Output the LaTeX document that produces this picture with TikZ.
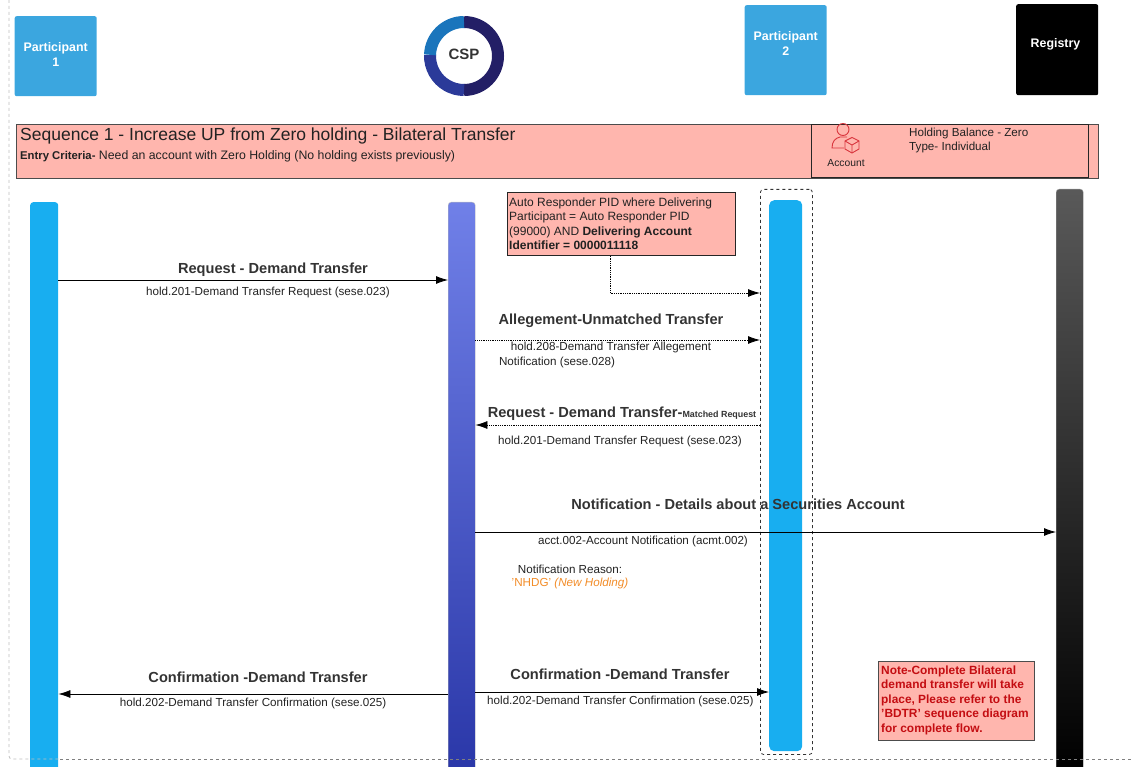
\documentclass[tikz,border=0pt]{standalone}
\usepackage{fontspec}
\setmainfont{Liberation Sans}
\usetikzlibrary{arrows.meta}
\definecolor{partblue}{HTML}{3BA6DF}
\definecolor{lineblue}{HTML}{18AEF0}
\definecolor{bannerpink}{HTML}{FFB6AE}
\definecolor{titlegrey}{HTML}{333333}
\definecolor{textgrey}{HTML}{222222}
\definecolor{noteorange}{HTML}{F28C28}
\definecolor{notered}{HTML}{C40D12}
\definecolor{iconred}{HTML}{D9363E}
\definecolor{ringnavy}{HTML}{231F66}
\definecolor{ringblue}{HTML}{2B3A99}
\definecolor{ringsky}{HTML}{1A75BC}
\tikzset{
    headbox/.style={anchor=north west, draw=none, rounded corners=2pt, inner sep=0pt},
    headtext/.style={text=white, align=center, inner sep=0pt, font=\bfseries\fontsize{12.4}{15}\selectfont},
    lifeline/.style={anchor=north west, rounded corners=3pt, inner sep=0pt},
    pinkbox/.style={anchor=north west, fill=bannerpink, draw=black!70, line width=.8pt, inner sep=0pt},
    msgtitle/.style={text=titlegrey, inner sep=0pt, font=\bfseries\fontsize{14.6}{17}\selectfont},
    msgtext/.style={text=textgrey, inner sep=0pt, align=left, font=\fontsize{11.65}{14.5}\selectfont},
    msgsolid/.style={-{Latex[length=12pt,width=8pt]}, line width=.8pt, black},
    msgdotted/.style={msgsolid, densely dotted},
    ringarc/.style={line width=12pt},
    frameline/.style={dashed, line width=.8pt, rounded corners=3pt}
}
\newcommand*{\HeadBoxes}[1]{% #1 = list of name/x/y/h/fill/lift/text
  \foreach \name/\x/\y/\h/\boxfill/\lift/\text in {#1} {
    \node [headbox, fill=\boxfill, minimum width=82pt, minimum height=\h pt] (\name)
      at (\x,\y) {};
    \node [headtext] (\name Text) at ([yshift=\lift pt]\name.center) {\text};
    }%
}
\newcommand*{\MsgTitles}[1]{% #1 = list of name/x/y/text
  \foreach \name/\x/\y/\text in {#1} {
    \node [msgtitle] (\name) at (\x,\y) {\text};
    }%
}
\newcommand*{\MsgTexts}[1]{% #1 = list of name/x/y/text
  \foreach \name/\x/\y/\text in {#1} {
    \node [msgtext] (\name) at (\x,\y) {\text};
    }%
}

\begin{document}
\begin{tikzpicture}[x=1pt,y=-1pt]
    \useasboundingbox (0,0) rectangle (1133,767);

    \HeadBoxes{
        headOne/14.5/16/80/partblue/1.5/{Participant\\1},
        headTwo/744.5/5/90/partblue/7/{Participant\\2},
        headReg/1016/4/91/black/5/Registry
    }

    % CSP ring
    \coordinate (ringc) at (464,56);
    \node [inner sep=0pt, text=titlegrey, font=\bfseries\fontsize{15}{18}\selectfont] (csp) at (464,54.5) {CSP};
    \draw [ringarc, ringnavy] (ringc) ++(90:34pt) arc (90:-90:34pt);
    \draw [ringarc, ringblue] (ringc) ++(-90:34pt) arc (270:178:34pt);
    \draw [ringarc, ringsky] (ringc) ++(178:34pt) arc (178:90:34pt);

    % banner
    \node [pinkbox, minimum width=1082pt, minimum height=54pt] (banner) at (15.5,124) {};
    \node [pinkbox, draw=black!85, minimum width=277pt, minimum height=53pt] (acctbox) at (811,124) {};
    \node [anchor=west, inner sep=0pt, text=textgrey, font=\fontsize{17.5}{20}\selectfont] (seqtitle) at (20,135.5) {Sequence 1 - Increase UP from Zero holding - Bilateral Transfer};
    \node [anchor=west, inner sep=0pt, text=textgrey, font=\fontsize{12.3}{14}\selectfont] (entry) at (20,156) {{\bfseries\fontsize{11.3}{14}\selectfont Entry Criteria-} Need an account with Zero Holding (No holding exists previously)};
    \begin{scope}
        \clip (acctbox.north west) rectangle (acctbox.south east);
        \draw [iconred, line width=.9pt] (843,129.5) circle (6pt);
        \draw [iconred, line width=.9pt] (847,137) -- (840,137) .. controls (835,138) and (832,142) .. (832,148) -- (844,148);
        \draw [iconred, line width=.9pt] (852,137.5) -- (859,141) -- (859,149) -- (852,153) -- (845,149) -- (845,141) -- cycle;
        \draw [iconred, line width=.9pt] (845,141) -- (852,145) -- (859,141) (852,145) -- (852,153);
    \end{scope}
    \node [msgtext, font=\fontsize{10.3}{12}\selectfont] (account) at (846,163) {Account};
    \node [msgtext, anchor=north west] (balance) at (909,127.5) {Holding Balance - Zero\\Type- Individual};

    % lifelines
    \node [lifeline, fill=lineblue, minimum width=28pt, minimum height=570pt] (lifeOne) at (30,202) {};
    \node [lifeline, top color={rgb,255:red,112;green,128;blue,232}, bottom color={rgb,255:red,42;green,55;blue,168}, draw=black!25, minimum width=27pt, minimum height=570pt] (lifeCsp) at (448,202) {};
    \node [lifeline, rounded corners=5pt, fill=lineblue, minimum width=33pt, minimum height=551pt] (lifeTwo) at (769,200) {};
    \node [lifeline, top color=black!65, middle color=black, bottom color=black, draw=black!40, minimum width=27pt, minimum height=582pt] (lifeReg) at (1056,189) {};
    \node [lifeline, draw=black!80, frameline, minimum width=52pt, minimum height=565pt] (frameTwo) at (760,189) {};

    % notes
    \node [pinkbox, draw=black!85, minimum width=228pt, minimum height=63pt] (noteAuto) at (507,192) {};
    \node [msgtext, anchor=north west, font=\fontsize{12}{14.5}\selectfont] (noteAutoText) at (509,197.5) {Auto Responder PID where Delivering\\Participant = Auto Responder PID\\(99000) AND \textbf{Delivering Account}\\\textbf{Identifier = 0000011118}};
    \node [pinkbox, minimum width=156pt, minimum height=79pt] (noteFlow) at (878,661) {};
    \node [msgtext, anchor=north west, text=notered, font=\bfseries\fontsize{11.9}{14.5}\selectfont] (noteFlowText) at (881,665.5) {Note-Complete Bilateral\\demand transfer will take\\place, Please refer to the\\'BDTR' sequence diagram\\for complete flow.};

    % messages
    \draw [msgsolid] (lifeOne.east |- 0,280) -- (lifeCsp.west |- 0,280);
    \draw [msgdotted] (noteAuto.south -| 610,0) |- (frameTwo.west |- 0,293);
    \draw [msgdotted] (lifeCsp.east |- 0,340) -- (frameTwo.west |- 0,340);
    \draw [msgdotted] (frameTwo.west |- 0,425) -- (lifeCsp.east |- 0,425);
    \draw [msgsolid] (lifeCsp.east |- 0,532) -- (lifeReg.west |- 0,532);
    \draw [msgsolid] (lifeCsp.west |- 0,694) -- (lifeOne.east |- 0,694);
    \draw [msgsolid] (lifeCsp.east |- 0,692) -- (lifeTwo.west |- 0,692);

    \MsgTitles{
        titleReq/273/269.5/Request - Demand Transfer,
        titleAlleg/611/320.5/Allegement-Unmatched Transfer,
        titleMatch/622/414/{Request - Demand Transfer-{\fontsize{8.9}{10}\selectfont Matched Request}},
        titleNotif/738/504.5/Notification - Details about a Securities Account,
        titleConfA/258/677/Confirmation -Demand Transfer,
        titleConfB/620/674.5/Confirmation -Demand Transfer
    }

    \MsgTexts{
        textReq/268/292.5/hold.201-Demand Transfer Request (sese.023),
        textAllegA/611/347.5/hold.208-Demand Transfer Allegement,
        textAllegB/557/362/Notification (sese.028),
        textMatch/620/441.5/hold.201-Demand Transfer Request (sese.023),
        textNotif/643/541.5/acct.002-Account Notification (acmt.002),
        textReason/570/569/Notification Reason:,
        textConfA/253/703.5/hold.202-Demand Transfer Confirmation (sese.025),
        textConfB/622/701.5/hold.202-Demand Transfer Confirmation (sese.025)
    }
    \node [msgtext, text=noteorange] (textHold) at (570,583) {'NHDG' \textit{(New Holding)}};

    % outer frame
    \draw [frameline, black!25] (9,0) -- (9,759) -- (60,759);
    \draw [frameline, black!50] (60,759) -- (1133,759);
\end{tikzpicture}
\end{document}
